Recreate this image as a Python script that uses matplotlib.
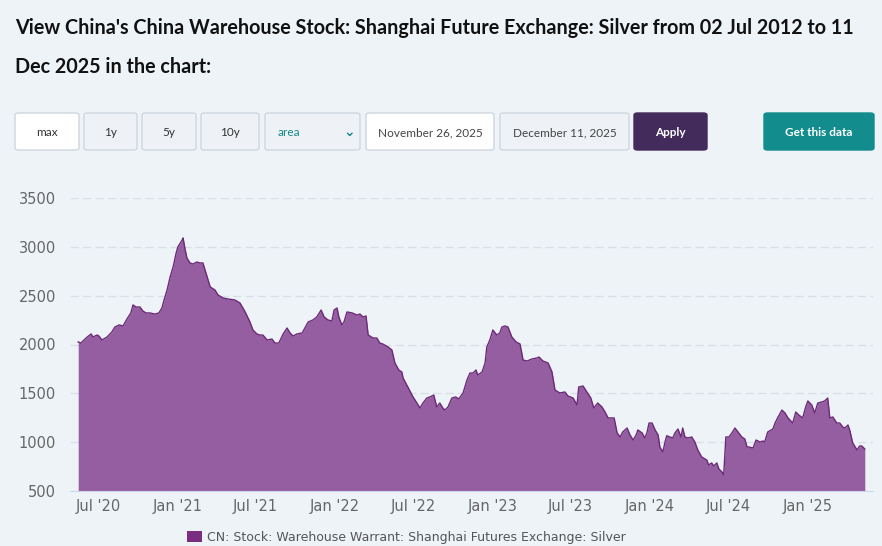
import matplotlib
matplotlib.use('Agg')
import matplotlib.pyplot as plt
import matplotlib.dates as mdates
from matplotlib.patches import FancyBboxPatch, Rectangle
import pandas as pd

# data
dates = [
    '2020-05-16', '2020-05-23', '2020-05-27', '2020-06-06', '2020-06-15', '2020-06-19',
    '2020-06-29', '2020-07-03', '2020-07-10', '2020-07-22', '2020-08-02', '2020-08-09',
    '2020-08-19', '2020-08-28', '2020-09-06', '2020-09-15', '2020-09-20', '2020-09-27',
    '2020-10-06', '2020-10-13', '2020-10-20', '2020-10-29', '2020-11-10', '2020-11-19',
    '2020-11-26', '2020-12-01', '2020-12-08', '2020-12-15', '2020-12-22', '2020-12-29',
    '2021-01-02', '2021-01-12', '2021-01-14', '2021-01-19', '2021-01-23', '2021-01-30',
    '2021-02-06', '2021-02-15', '2021-02-22', '2021-03-01', '2021-03-11', '2021-03-18',
    '2021-03-29', '2021-04-05', '2021-04-17', '2021-04-28', '2021-05-14', '2021-05-26',
    '2021-06-07', '2021-06-18', '2021-06-25', '2021-07-04', '2021-07-11', '2021-07-18',
    '2021-07-28', '2021-08-08', '2021-08-15', '2021-08-24', '2021-09-03', '2021-09-12',
    '2021-09-19', '2021-09-26', '2021-10-05', '2021-10-17', '2021-10-26', '2021-10-31',
    '2021-11-11', '2021-11-20', '2021-11-30', '2021-12-07', '2021-12-16', '2021-12-25',
    '2021-12-30', '2022-01-06', '2022-01-10', '2022-01-17', '2022-01-22', '2022-01-29',
    '2022-02-10', '2022-02-21', '2022-02-28', '2022-03-07', '2022-03-14', '2022-03-19',
    '2022-03-23', '2022-03-30', '2022-04-08', '2022-04-15', '2022-04-22', '2022-05-04',
    '2022-05-13', '2022-05-20', '2022-05-29', '2022-06-05', '2022-06-08', '2022-06-19',
    '2022-07-01', '2022-07-10', '2022-07-17', '2022-07-24', '2022-08-02', '2022-08-09',
    '2022-08-18', '2022-08-25', '2022-09-01', '2022-09-08', '2022-09-13', '2022-09-20',
    '2022-09-29', '2022-10-08', '2022-10-15', '2022-10-25', '2022-11-03', '2022-11-10',
    '2022-11-17', '2022-11-24', '2022-11-28', '2022-12-08', '2022-12-15', '2022-12-19',
    '2022-12-26', '2023-01-02', '2023-01-11', '2023-01-18', '2023-01-23', '2023-01-30',
    '2023-02-06', '2023-02-15', '2023-02-25', '2023-03-06', '2023-03-13', '2023-03-22',
    '2023-04-03', '2023-04-14', '2023-04-19', '2023-04-28', '2023-05-10', '2023-05-19',
    '2023-05-26', '2023-06-06', '2023-06-18', '2023-06-25', '2023-07-07', '2023-07-16',
    '2023-07-20', '2023-07-30', '2023-08-08', '2023-08-17', '2023-08-24', '2023-09-02',
    '2023-09-12', '2023-09-19', '2023-09-26', '2023-10-05', '2023-10-10', '2023-10-17',
    '2023-10-24', '2023-10-30', '2023-11-09', '2023-11-16', '2023-11-23', '2023-11-30',
    '2023-12-04', '2023-12-14', '2023-12-20', '2023-12-25', '2023-12-30', '2024-01-06',
    '2024-01-13', '2024-01-20', '2024-01-24', '2024-01-31', '2024-02-05', '2024-02-09',
    '2024-02-16', '2024-02-23', '2024-02-28', '2024-03-06', '2024-03-13', '2024-03-17',
    '2024-03-22', '2024-03-29', '2024-04-07', '2024-04-14', '2024-04-21', '2024-04-30',
    '2024-05-12', '2024-05-16', '2024-05-23', '2024-05-28', '2024-06-04', '2024-06-09',
    '2024-06-16', '2024-06-20', '2024-06-25', '2024-07-02', '2024-07-09', '2024-07-16',
    '2024-07-23', '2024-08-01', '2024-08-08', '2024-08-13', '2024-08-17', '2024-08-27',
    '2024-09-03', '2024-09-12', '2024-09-19', '2024-09-23', '2024-09-30', '2024-10-12',
    '2024-10-17', '2024-10-24', '2024-11-02', '2024-11-09', '2024-11-16', '2024-11-27',
    '2024-12-04', '2024-12-11', '2024-12-20', '2024-12-27', '2025-01-01', '2025-01-10',
    '2025-01-17', '2025-01-24', '2025-02-02', '2025-02-09', '2025-02-16', '2025-02-21',
    '2025-02-28', '2025-03-09', '2025-03-16', '2025-03-23', '2025-03-28', '2025-04-04',
    '2025-04-08', '2025-04-15', '2025-04-25', '2025-05-01', '2025-05-06', '2025-05-13',
]
values = [
    2026, 2015, 2036, 2077, 2108, 2077,
    2097, 2087, 2046, 2077, 2128, 2179,
    2200, 2190, 2261, 2323, 2405, 2384,
    2384, 2343, 2323, 2323, 2312, 2323,
    2374, 2456, 2558, 2691, 2794, 2937,
    2999, 3070, 3091, 2968, 2886, 2835,
    2824, 2845, 2835, 2835, 2691, 2589,
    2558, 2507, 2476, 2466, 2456, 2425,
    2333, 2231, 2149, 2108, 2097, 2097,
    2046, 2056, 2015, 2015, 2108, 2169,
    2118, 2087, 2108, 2118, 2190, 2231,
    2251, 2282, 2353, 2282, 2251, 2241,
    2353, 2374, 2282, 2200, 2231, 2333,
    2323, 2302, 2312, 2282, 2292, 2097,
    2087, 2067, 2067, 2015, 2005, 1975,
    1944, 1811, 1739, 1719, 1657, 1565,
    1463, 1401, 1350, 1401, 1452, 1463,
    1483, 1360, 1401, 1350, 1329, 1360,
    1452, 1463, 1442, 1504, 1637, 1708,
    1708, 1739, 1688, 1719, 1811, 1975,
    2046, 2149, 2097, 2118, 2179, 2190,
    2179, 2077, 2026, 2005, 1841, 1831,
    1852, 1862, 1872, 1831, 1811, 1719,
    1534, 1504, 1514, 1473, 1452, 1381,
    1565, 1575, 1514, 1452, 1350, 1401,
    1360, 1309, 1248, 1248, 1248, 1094,
    1053, 1104, 1145, 1073, 1022, 1073,
    1125, 1094, 1043, 1094, 1196, 1196,
    1125, 1073, 951, 899, 1002, 1066,
    1053, 1043, 1094, 1135, 1053, 1145,
    1053, 1043, 1053, 1002, 920, 848,
    817, 766, 787, 756, 787, 725,
    695, 664, 1053, 1053, 1094, 1145,
    1104, 1053, 1032, 951, 951, 940,
    1022, 1002, 1012, 1002, 1104, 1135,
    1196, 1258, 1329, 1299, 1248, 1196,
    1309, 1278, 1248, 1360, 1422, 1381,
    1299, 1401, 1411, 1422, 1452, 1248,
    1258, 1196, 1196, 1155, 1145, 1176,
    1125, 992, 920, 961, 961, 930,
]
y_ticks = [500, 1000, 1500, 2000, 2500, 3000, 3500]
series_name = 'CN: Stock: Warehouse Warrant: Shanghai Futures Exchange: Silver'
title = ("View China's China Warehouse Stock: Shanghai Future Exchange: Silver from 02 Jul 2012 to 11\n"
         "Dec 2025 in the chart:")

BG = '#eef3f8'
FILL = '#955ea0'
LINE = '#6b2a78'

W, H = 882, 546
fig = plt.figure(figsize=(W / 100, H / 100), dpi=100, facecolor=BG)


def px(x, y, w, h):
    # pixel box (top-left origin) -> figure fraction rect
    return [x / W, 1 - (y + h) / H, w / W, h / H]


fig.text(15 / W, 1 - 18 / H, title, ha='left', va='top', fontsize=14.25, fontweight='bold',
         family='Lato', color='#111111', linespacing=2.2)

# control buttons
buttons = [
    (15, 64, 'max', 'white', '#333333', False),
    (84, 53, '1y', '#eef2f6', '#333333', False),
    (142, 54, '5y', '#eef2f6', '#333333', False),
    (201, 58, '10y', '#eef2f6', '#333333', False),
    (366, 128, 'November 26, 2025', 'white', '#444444', False),
    (500, 129, 'December 11, 2025', '#eef2f6', '#444444', False),
    (634, 73, 'Apply', '#432b5c', 'white', True),
    (764, 110, 'Get this data', '#128c8c', 'white', True),
]
for bx, bw, label, fc, tc, bold in buttons:
    ec = fc if bold else '#cfd6de'
    fig.patches.append(FancyBboxPatch((bx / W, 1 - 150 / H), bw / W, 37 / H,
                                      boxstyle='round,pad=0,rounding_size=0.004',
                                      transform=fig.transFigure, fc=fc, ec=ec, lw=1))
    fig.text((bx + bw / 2) / W, 1 - 133 / H, label, ha='center', va='center', fontsize=8.5,
             color=tc, fontweight='bold' if bold else 'normal', family='Lato')

# "area" select box
fig.patches.append(FancyBboxPatch((265 / W, 1 - 150 / H), 95 / W, 37 / H,
                                  boxstyle='round,pad=0,rounding_size=0.004',
                                  transform=fig.transFigure, fc='#eef2f6', ec='#cfd6de', lw=1))
fig.text(278 / W, 1 - 133 / H, 'area', ha='left', va='center', fontsize=8.5, color='#138a8a',
         family='Lato')
fig.text(349 / W, 1 - 132 / H, '\u2304', ha='center', va='center', fontsize=10, color='#138a8a',
         fontweight='bold')

# chart
ax = fig.add_axes(px(70, 198, 803, 293))
ax.set_facecolor(BG)
x = pd.to_datetime(dates)
ax.fill_between(x, values, 500, color=FILL, lw=0)
ax.plot(x, values, color=LINE, lw=1.0)

ax.set_ylim(500, 3500)
ax.set_xlim(x[0] - pd.Timedelta(days=19), x[-1] + pd.Timedelta(days=19))
ax.set_yticks(y_ticks)
ax.grid(axis='y', color='#d9dfe6', ls=(0, (6, 3)), lw=1)
ax.set_axisbelow(True)
for s in ['top', 'right', 'left']:
    ax.spines[s].set_visible(False)
ax.spines['bottom'].set_color('#ccd6eb')
ax.xaxis.set_major_locator(mdates.MonthLocator(bymonth=[1, 7]))
ax.xaxis.set_major_formatter(mdates.DateFormatter("%b '%y"))
ax.tick_params(axis='both', length=0, labelsize=10.5, labelcolor='#666666')
ax.tick_params(axis='y', pad=10)
ax.tick_params(axis='x', pad=6)

# legend
fig.patches.append(Rectangle((187 / W, 1 - 542 / H), 15 / W, 11 / H, transform=fig.transFigure,
                             fc='#7b2d82', ec='none'))
fig.text(207 / W, 1 - 537 / H, series_name, ha='left', va='center', fontsize=9.0, color='#555555')

fig.savefig('out.png', dpi=100, facecolor=BG)
